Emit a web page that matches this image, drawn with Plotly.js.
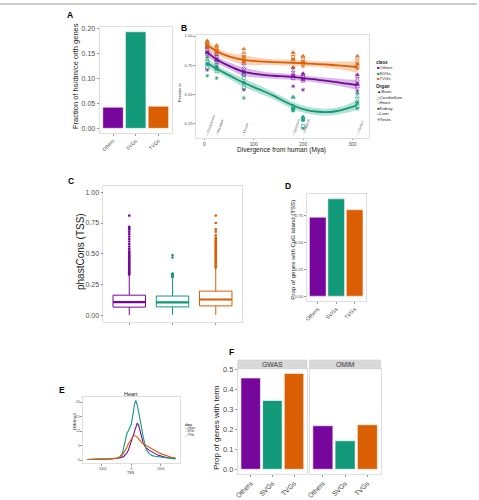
<!DOCTYPE html>
<html>
<head>
<meta charset="utf-8">
<script src="https://cdn.plot.ly/plotly-3.0.1.min.js"></script>
<style>html,body{margin:0;padding:0;background:#fff}#fig{width:479px;height:500px}</style>
</head>
<body>
<div id="fig"></div>
<script>
// ---------- data ----------
const classes = ['Others', 'SVGs', 'TVGs'];

// A: fraction of hs/dm/ce orthologous genes
const orthFraction = [0.042, 0.193, 0.044];

// B: expression conservation vs divergence from human
const species = ['Chimpanzee', 'Macaque', 'Mouse', 'Opossum', 'Platypus', 'Chicken'];
const divergence = [6, 25, 80, 180, 200, 310];
const organs = ['Brain', 'Cerebellum', 'Heart', 'Kidney', 'Liver', 'Testis'];

const othersBrain      = [0.91, 0.86, 0.78, 0.73, 0.68, 0.67];
const othersCerebellum = [0.90, 0.84, 0.76, 0.70, 0.67, 0.65];
const othersHeart      = [0.88, 0.82, 0.72, 0.67, 0.65, 0.62];
const othersKidney     = [0.86, 0.80, 0.69, 0.66, 0.63, 0.59];
const othersLiver      = [0.85, 0.78, 0.67, 0.64, 0.62, 0.57];
const othersTestis     = [0.71, 0.74, 0.54, 0.57, 0.54, 0.53];

const svgsBrain      = [0.82, 0.79, 0.70, 0.48, 0.31, 0.51];
const svgsCerebellum = [0.80, 0.76, 0.67, 0.47, 0.30, 0.48];
const svgsHeart      = [0.78, 0.73, 0.64, 0.40, 0.29, 0.45];
const svgsKidney     = [0.76, 0.72, 0.60, 0.38, 0.28, 0.43];
const svgsLiver      = [0.73, 0.70, 0.56, 0.37, 0.23, 0.40];
const svgsTestis     = [0.66, 0.64, 0.47, 0.36, 0.21, 0.38];

const tvgsBrain      = [0.96, 0.92, 0.89, 0.86, 0.83, 0.83];
const tvgsCerebellum = [0.95, 0.91, 0.86, 0.84, 0.82, 0.81];
const tvgsHeart      = [0.94, 0.89, 0.84, 0.82, 0.80, 0.78];
const tvgsKidney     = [0.93, 0.88, 0.82, 0.80, 0.78, 0.76];
const tvgsLiver      = [0.92, 0.86, 0.80, 0.78, 0.77, 0.74];
const tvgsTestis     = [0.90, 0.85, 0.77, 0.73, 0.74, 0.72];

// smoothed trend (loess) and its standard-error half width
const fitMya    = [6, 25, 50, 80, 110, 140, 170, 200, 230, 260, 290, 310];
const othersFit = [0.86, 0.80, 0.745, 0.695, 0.672, 0.66, 0.652, 0.64, 0.625, 0.61, 0.592, 0.58];
const othersSe  = [0.035, 0.03, 0.03, 0.035, 0.03, 0.025, 0.025, 0.025, 0.025, 0.03, 0.035, 0.045];
const svgsFit   = [0.77, 0.72, 0.665, 0.60, 0.545, 0.49, 0.425, 0.375, 0.352, 0.352, 0.38, 0.41];
const svgsSe    = [0.035, 0.03, 0.03, 0.035, 0.035, 0.03, 0.03, 0.03, 0.03, 0.03, 0.035, 0.045];
const tvgsFit   = [0.92, 0.87, 0.825, 0.795, 0.783, 0.777, 0.772, 0.767, 0.76, 0.752, 0.742, 0.735];
const tvgsSe    = [0.035, 0.03, 0.03, 0.04, 0.03, 0.025, 0.025, 0.025, 0.025, 0.03, 0.04, 0.05];

// C: phastCons at the TSS (box statistics and outliers)
const phastLow    = [0.005, 0.005, 0.005];
const phastQ1     = [0.068, 0.070, 0.078];
const phastMedian = [0.108, 0.107, 0.130];
const phastQ3     = [0.165, 0.158, 0.198];
const phastHigh   = [0.32, 0.30, 0.385];
const othersOutliers = [0.33, 0.34, 0.35, 0.36, 0.37, 0.38, 0.39, 0.40, 0.41, 0.42, 0.43, 0.44, 0.45,
  0.46, 0.47, 0.48, 0.49, 0.50, 0.51, 0.52, 0.54, 0.56, 0.58, 0.60, 0.62, 0.64, 0.66, 0.68, 0.70, 0.71, 0.72, 0.81];
const svgsOutliers = [0.31, 0.32, 0.325, 0.33, 0.335, 0.34, 0.47, 0.49];
const tvgsOutliers = [0.39, 0.40, 0.41, 0.42, 0.43, 0.44, 0.45, 0.46, 0.47, 0.48, 0.49, 0.50, 0.51, 0.52,
  0.53, 0.54, 0.55, 0.56, 0.57, 0.58, 0.59, 0.60, 0.61, 0.62, 0.63, 0.65, 0.68, 0.70, 0.75, 0.81];

// D: proportion of genes with a CpG island at the TSS
const cpgProp = [0.737, 0.910, 0.808];

// E: H3K4me3 profile around the TSS in heart
const tssPos = [-3000, -2500, -2000, -1500, -1000, -800, -600, -500, -400, -300, -200, -100, 0, 100, 200, 300,
  400, 500, 600, 700, 800, 900, 1000, 1200, 1400, 1600, 1800, 2000, 2250, 2500, 2750, 3000];
const othersH3 = [0.3, 0.3, 0.35, 0.45, 0.6, 0.8, 1.1, 1.4, 1.9, 2.5, 3.5, 5.0, 6.5, 8.0, 10.0, 11.5,
  12.8, 12.0, 9.8, 7.8, 6.0, 5.0, 4.3, 3.5, 2.8, 2.3, 1.8, 1.4, 1.1, 0.9, 0.8, 0.6];
const svgsH3 = [0.3, 0.3, 0.35, 0.5, 0.8, 1.1, 2.5, 5.0, 7.0, 9.3, 10.2, 11.2, 12.5, 15.5, 19.0, 20.6,
  19.0, 16.5, 14.2, 11.0, 8.2, 5.8, 3.8, 2.4, 1.6, 1.4, 1.3, 1.1, 0.9, 0.8, 0.6, 0.5];
const tvgsH3 = [0.3, 0.3, 0.35, 0.5, 0.7, 1.0, 1.8, 2.6, 3.5, 4.5, 5.6, 6.5, 7.4, 8.2, 8.6, 8.4,
  8.0, 7.3, 6.6, 6.1, 5.7, 5.4, 5.1, 4.4, 3.7, 3.2, 2.8, 2.3, 1.8, 1.4, 1.0, 0.8];

// F: proportion of genes with a GWAS / OMIM term
const gwasProp = [0.455, 0.343, 0.478];
const omimProp = [0.217, 0.142, 0.222];

// ---------- styling helpers ----------
const W = 479, H = 500;
const px = v => v / W;
const py = v => 1 - v / H;
const FONT = 'Liberation Sans, Arial, Helvetica, sans-serif';
const COL = {Others: '#76069c', SVGs: '#12997a', TVGs: '#d95f02'};
const BAND = {Others: 'rgba(140,60,180,0.35)', SVGs: 'rgba(40,170,130,0.35)', TVGs: 'rgba(240,140,70,0.4)'};
const classColors = classes.map(c => COL[c]);
const catPos = classes.map((c, i) => i + 1);
const organSymbols = ['triangle-up', 'triangle-up-open', 'circle-open', 'circle', 'square-open', 'asterisk-open'];
const organGlyphs = ['▲', '△', '○', '●', '□', '✳'];

function axis(o) {
  return Object.assign({
    showgrid: false, zeroline: false, showline: true, mirror: true,
    linecolor: '#d6d6d6', linewidth: 0.8,
    ticks: 'outside', ticklen: 2, tickwidth: 0.6, tickcolor: '#555',
    fixedrange: true
  }, o);
}
const tf = size => ({family: FONT, size: size, color: '#4d4d4d'});

const traces = [];

// ---------- A ----------
traces.push({
  type: 'bar', x: catPos, y: orthFraction, width: 0.9,
  marker: {color: classColors, line: {color: '#ffffff', width: 0.5}},
  xaxis: 'x', yaxis: 'y', hoverinfo: 'skip'
});

// ---------- B ----------
const bSeries = {
  Others: [othersBrain, othersCerebellum, othersHeart, othersKidney, othersLiver, othersTestis],
  SVGs: [svgsBrain, svgsCerebellum, svgsHeart, svgsKidney, svgsLiver, svgsTestis],
  TVGs: [tvgsBrain, tvgsCerebellum, tvgsHeart, tvgsKidney, tvgsLiver, tvgsTestis]
};
classes.forEach(c => {
  bSeries[c].forEach((vals, k) => {
    traces.push({
      type: 'scatter', mode: 'markers', x: divergence, y: vals,
      marker: {symbol: organSymbols[k], size: 3.4, color: COL[c], opacity: 0.85,
               line: {color: COL[c], width: 0.7}},
      xaxis: 'x2', yaxis: 'y2', hoverinfo: 'skip'
    });
  });
});
const fits = {Others: [othersFit, othersSe], SVGs: [svgsFit, svgsSe], TVGs: [tvgsFit, tvgsSe]};
classes.forEach(c => {
  const [fit, se] = fits[c];
  traces.push({type: 'scatter', mode: 'lines', x: fitMya, y: fit.map((v, i) => v - se[i]),
    line: {width: 0, shape: 'spline'}, xaxis: 'x2', yaxis: 'y2', hoverinfo: 'skip'});
  traces.push({type: 'scatter', mode: 'lines', x: fitMya, y: fit.map((v, i) => v + se[i]),
    line: {width: 0, shape: 'spline'}, fill: 'tonexty', fillcolor: BAND[c],
    xaxis: 'x2', yaxis: 'y2', hoverinfo: 'skip'});
});
classes.forEach(c => {
  traces.push({type: 'scatter', mode: 'lines', x: fitMya, y: fits[c][0],
    line: {width: 1.8, color: COL[c], shape: 'spline'}, xaxis: 'x2', yaxis: 'y2', hoverinfo: 'skip'});
});

// ---------- C ----------
const boxWidth = 0.75;
classes.forEach((c, i) => {
  traces.push({
    type: 'box', x: [catPos[i]], q1: [phastQ1[i]], median: [phastMedian[i]], q3: [phastQ3[i]],
    lowerfence: [phastLow[i]], upperfence: [phastHigh[i]], width: boxWidth, whiskerwidth: 0,
    fillcolor: '#ffffff', line: {color: COL[c], width: 1}, boxpoints: false,
    xaxis: 'x3', yaxis: 'y3', hoverinfo: 'skip'
  });
  traces.push({
    type: 'scatter', mode: 'lines',
    x: [catPos[i] - boxWidth / 2, catPos[i] + boxWidth / 2], y: [phastMedian[i], phastMedian[i]],
    line: {color: COL[c], width: 2.2}, xaxis: 'x3', yaxis: 'y3', hoverinfo: 'skip'
  });
});
[othersOutliers, svgsOutliers, tvgsOutliers].forEach((o, i) => {
  traces.push({
    type: 'scatter', mode: 'markers', x: o.map(() => catPos[i]), y: o,
    marker: {size: 2.6, color: classColors[i]}, xaxis: 'x3', yaxis: 'y3', hoverinfo: 'skip'
  });
});

// ---------- D ----------
traces.push({
  type: 'bar', x: catPos, y: cpgProp, width: 0.9,
  marker: {color: classColors, line: {color: '#ffe8f0', width: 0.5}},
  xaxis: 'x4', yaxis: 'y4', hoverinfo: 'skip'
});

// ---------- E ----------
[[othersH3, 'Others'], [svgsH3, 'SVGs'], [tvgsH3, 'TVGs']].forEach(([vals, c]) => {
  traces.push({type: 'scatter', mode: 'lines', x: tssPos, y: vals,
    line: {color: COL[c], width: 1.1}, xaxis: 'x5', yaxis: 'y5', hoverinfo: 'skip'});
});

// ---------- F ----------
traces.push({type: 'bar', x: catPos, y: gwasProp, width: 0.9,
  marker: {color: classColors, line: {color: '#ffffff', width: 0.6}}, xaxis: 'x6', yaxis: 'y6', hoverinfo: 'skip'});
traces.push({type: 'bar', x: catPos, y: omimProp, width: 0.9,
  marker: {color: classColors, line: {color: '#ffffff', width: 0.6}}, xaxis: 'x7', yaxis: 'y7', hoverinfo: 'skip'});

// ---------- axes ----------
const catAxis = (dom, size, anchor, showLabels) => axis({
  domain: dom, range: [0.4, 3.6], tickvals: catPos, ticktext: classes, tickangle: -45,
  tickfont: tf(size), anchor: anchor, showticklabels: showLabels !== false
});

const bX = {domain: [px(196), px(369)], range: [-16.8, 333.6]};
const fGw = [px(237.7), px(307)];
const fOm = [px(309.5), px(380.7)];
const fY = [py(474.1), py(368.8)];

const layout = {
  width: W, height: H, autosize: false,
  margin: {l: 0, r: 0, t: 0, b: 0},
  paper_bgcolor: '#ffffff', plot_bgcolor: '#ffffff',
  showlegend: false, bargap: 0,
  font: {family: FONT},
  xaxis: catAxis([px(99.4), px(172)], 5, 'y'),
  yaxis: axis({domain: [py(133.1), py(27)], range: [-0.00965, 0.2027],
    tickvals: [0, 0.05, 0.1, 0.15, 0.2], tickformat: '.2f', tickfont: tf(7), anchor: 'x'}),
  xaxis2: axis({domain: bX.domain, range: bX.range, tickvals: [0, 100, 200, 300],
    tickfont: tf(4.8), anchor: 'y2', ticklen: 1.5}),
  yaxis2: axis({domain: [py(138), py(35)], range: [0.1275, 1.0086],
    tickvals: [0.25, 0.5, 0.75, 1], tickformat: '.2f', tickfont: tf(4), anchor: 'x2'}),
  xaxis3: catAxis([px(103.3), px(241.7)], 6, 'y3', false),
  yaxis3: axis({domain: [py(321.7), py(186)], range: [-0.05, 1.05],
    tickvals: [0, 0.25, 0.5, 0.75, 1], tickformat: '.2f', tickfont: tf(7), anchor: 'x3'}),
  xaxis4: catAxis([px(306.7), px(365.7)], 5.5, 'y4'),
  yaxis4: axis({domain: [py(301), py(194)], range: [-0.0455, 0.9555],
    tickvals: [0, 0.25, 0.5, 0.75], tickformat: '.2f', tickfont: tf(4.3), anchor: 'x4'}),
  xaxis5: axis({domain: [px(82.7), px(180)], range: [-3300, 3300], tickvals: [-2000, 0, 2000],
    tickfont: tf(3.3), anchor: 'y5', ticklen: 1.5}),
  yaxis5: axis({domain: [py(463.3), py(397.3)], range: [-1.03, 21.7], tickvals: [0, 5, 10, 15, 20],
    tickfont: tf(3.3), anchor: 'x5', ticklen: 1.5}),
  xaxis6: catAxis(fGw, 6.8, 'y6'),
  yaxis6: axis({domain: fY, range: [-0.024, 0.501], tickvals: [0, 0.1, 0.2, 0.3, 0.4, 0.5],
    tickformat: '.1f', tickfont: tf(7.5), anchor: 'x6'}),
  xaxis7: catAxis(fOm, 6.8, 'y7'),
  yaxis7: axis({domain: fY, range: [-0.024, 0.501], showticklabels: false, ticks: '', anchor: 'x7'}),
  shapes: [],
  annotations: []
};

const ann = (x, y, text, size, extra) => Object.assign({
  xref: 'paper', yref: 'paper', x: px(x), y: py(y), text: text, showarrow: false,
  xanchor: 'center', yanchor: 'middle', font: {family: FONT, size: size, color: '#1a1a1a'}
}, extra || {});

// rule across the top of the page
layout.shapes.push({type: 'line', xref: 'paper', yref: 'paper', x0: 0, x1: px(477), y0: py(4), y1: py(4),
  line: {color: '#9a9a9a', width: 1}});

// facet strips for F
[[fGw, 'GWAS'], [fOm, 'OMIM']].forEach(([dom, label]) => {
  layout.shapes.push({type: 'rect', xref: 'paper', yref: 'paper', x0: dom[0], x1: dom[1],
    y0: py(368.8), y1: py(360), fillcolor: '#d9d9d9', line: {color: '#d0d0d0', width: 0.6}});
  layout.annotations.push({xref: 'paper', yref: 'paper', x: (dom[0] + dom[1]) / 2, y: py(364.4),
    text: label, showarrow: false, font: {family: FONT, size: 6.8, color: '#333'},
    xanchor: 'center', yanchor: 'middle'});
});

// panel letters
[['A', 70, 15], ['B', 184, 28], ['C', 71, 181], ['D', 287.5, 186], ['E', 62, 390], ['F', 231, 352]]
  .forEach(([t, x, y]) => layout.annotations.push(ann(x, y, '<b>' + t + '</b>', 8.5, {font: {family: FONT, size: 8.5, color: '#000'}})));

// axis titles
layout.annotations.push(
  ann(75, 76, 'Fraction of hs/dm/ce orth genes', 7.5, {textangle: -90}),
  ann(180, 93, 'Pearson cc', 3.8, {textangle: -90}),
  ann(281.7, 150.5, 'Divergence from human (Mya)', 6.6),
  ann(80, 252, 'phastCons (TSS)', 10, {textangle: -90}),
  ann(291.7, 250, 'Prop of genes with CpG island (TSS)', 6.1, {textangle: -90}),
  ann(130.7, 394, 'Heart', 5.5),
  ann(75, 422, 'H3K4me3', 3.8, {textangle: -90}),
  ann(131, 472.5, 'TSS', 3.8),
  ann(216.5, 427.5, 'Prop of genes with term', 8, {textangle: -90})
);

// species labels along the bottom of B
const bPxPerUnit = (369 - 196) / (bX.range[1] - bX.range[0]);
const labAngle = 71 * Math.PI / 180;
species.forEach((s, i) => {
  const txt = '– ' + s;
  const len = txt.length * 0.52 * 3.5;
  const dxPx = 0.5 * len * Math.cos(labAngle);
  const dyPx = 0.5 * len * Math.sin(labAngle);
  layout.annotations.push({
    xref: 'x2', yref: 'paper', x: divergence[i] + dxPx / bPxPerUnit, y: py(135.5 - dyPx),
    text: txt, textangle: -71, showarrow: false, xanchor: 'center', yanchor: 'middle',
    font: {family: FONT, size: 3.5, color: '#555'}
  });
});

// legend blocks (one multi-line text each so rows never collide)
const block = (x, yTop, lines, size) => ann(x, yTop, lines.join('<br>'), size,
  {xanchor: 'left', yanchor: 'top', align: 'left'});

// legend for B
layout.annotations.push(block(374, 57.8, ['<b>class</b>'], 4.6));
layout.annotations.push(block(374.5, 63.2,
  classes.map(c => '<span style="color:' + COL[c] + '">■</span>' + c), 4.3));
layout.annotations.push(block(374, 81.5, ['<b>Organ</b>'], 4.6));
layout.annotations.push(block(374.5, 87, organs.map((o, k) => organGlyphs[k] + o), 4.3));

// legend for E
layout.annotations.push(block(182.5, 420.5, ['<b>class</b>'], 2.8));
layout.annotations.push(block(182.5, 424,
  classes.map(c => '<span style="color:' + COL[c] + '">—</span>' + c), 2.6));

Plotly.newPlot('fig', traces, layout, {staticPlot: true, displayModeBar: false});
</script>
</body>
</html>
